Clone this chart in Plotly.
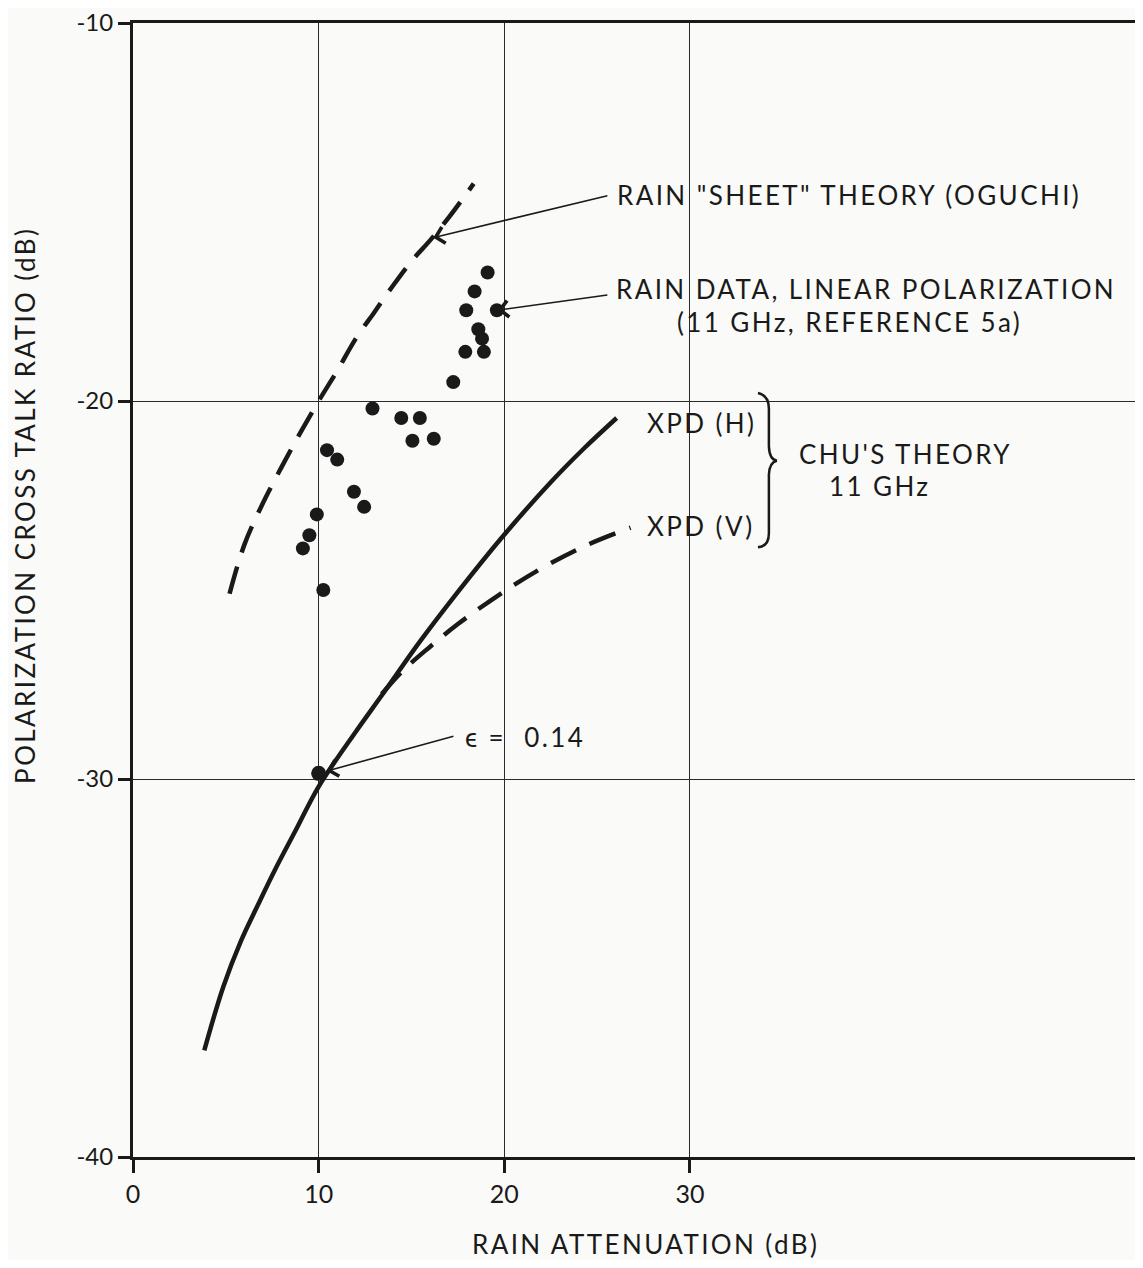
import plotly.graph_objects as go

# ---- data ----
rain_x = [19.1, 18.4, 17.95, 19.6, 18.6, 18.8, 17.9, 18.9, 17.25, 12.9, 14.45, 15.45, 15.05, 16.2,
          10.45, 11.0, 11.9, 12.45, 9.9, 9.5, 9.15, 10.25]
rain_y = [-16.6, -17.1, -17.6, -17.6, -18.1, -18.35, -18.7, -18.7, -19.5, -20.2, -20.45, -20.45, -21.05, -21.0,
          -21.3, -21.55, -22.4, -22.8, -23.0, -23.55, -23.9, -25.0]

oguchi_x = [5.2, 6.0, 7.0, 8.0, 9.0, 10.0, 11.0, 12.0, 13.0, 14.0, 15.0, 16.0, 17.0, 18.35]
oguchi_y = [-25.1, -23.8, -22.7, -21.75, -20.85, -20.0, -19.2, -18.35, -17.65, -16.95, -16.3, -15.75, -15.15, -14.25]

xpdh_x = [3.84, 4.86, 5.8, 6.72, 7.65, 8.77, 10.0, 12.0, 13.5, 15.4, 17.5, 19.8, 22.5, 24.3, 26.05]
xpdh_y = [-37.18, -35.5, -34.3, -33.34, -32.4, -31.35, -30.2, -28.75, -27.72, -26.4, -25.05, -23.65, -22.15, -21.25, -20.45]

xpdv_x = [13.4, 14.5, 16.0, 17.5, 19.8, 22.1, 24.5, 26.8]
xpdv_y = [-27.75, -27.15, -26.5, -25.9, -25.1, -24.4, -23.8, -23.35]

eps_x = [10.0]
eps_y = [-29.85]

x_ticks = [0, 10, 20, 30]
y_ticks = [-40, -30, -20, -10]

FONT = "Lato"
INK = "#1a1a1a"
BG = "#fafaf8"


def spaced(t, px=2.4):
    return '<span style="letter-spacing:%.1fpx">%s</span>' % (px, t)


fig = go.Figure()
fig.add_trace(go.Scatter(x=oguchi_x, y=oguchi_y, mode="lines", line=dict(color=INK, width=4.5, dash="28px,15px"),
                         line_shape="spline", showlegend=False))
fig.add_trace(go.Scatter(x=xpdh_x, y=xpdh_y, mode="lines", line=dict(color=INK, width=4.5),
                         line_shape="spline", showlegend=False))
fig.add_trace(go.Scatter(x=xpdv_x, y=xpdv_y, mode="lines", line=dict(color=INK, width=4.5, dash="28px,15px"),
                         line_shape="spline", showlegend=False))
fig.add_trace(go.Scatter(x=rain_x, y=rain_y, mode="markers", marker=dict(color=INK, size=14),
                         showlegend=False))
fig.add_trace(go.Scatter(x=eps_x, y=eps_y, mode="markers", marker=dict(color=INK, size=15),
                         showlegend=False))

ann_font = dict(family=FONT, size=26, color=INK)
texts = [
    (25.95, -14.56, 'RAIN "SHEET" THEORY (OGUCHI)', "left"),
    (25.9, -17.05, "RAIN DATA, LINEAR POLARIZATION", "left"),
    (38.6, -17.92, "(11 GHz, REFERENCE 5a)", "center"),
    (27.6, -20.57, "XPD (H)", "left"),
    (27.6, -23.30, "XPD (V)", "left"),
    (35.76, -21.40, "CHU'S THEORY", "left"),
    (37.37, -22.24, "11 GHz", "left"),
    (17.8, -28.88, "\u03f5 =  0.14", "left"),
]
for x, y, t, anc in texts:
    fig.add_annotation(x=x, y=y, text=spaced(t), showarrow=False, xanchor=anc, yanchor="middle", font=ann_font)

arrows = [
    (16.17, -15.68, 25.63, -14.56),
    (19.63, -17.6, 25.63, -17.19),
    (10.43, -29.79, 17.34, -28.86),
]
for hx, hy, tx, ty in arrows:
    fig.add_annotation(x=hx, y=hy, ax=tx, ay=ty, xref="x", yref="y", axref="x", ayref="y", text="",
                       showarrow=True, arrowhead=4, arrowsize=2.0, arrowwidth=1.6, arrowcolor=INK)

# brace for Chu's theory
fig.add_shape(type="path", xref="x", yref="y",
              path="M 33.66,-19.79 Q 34.25,-19.85 34.25,-20.2 L 34.25,-21.2 Q 34.28,-21.55 34.68,-21.58 "
                   "Q 34.28,-21.62 34.25,-21.95 L 34.25,-23.5 Q 34.25,-23.85 33.66,-23.87",
              line=dict(color=INK, width=2.5))

# axis titles as annotations
fig.add_annotation(xref="paper", yref="paper", x=-0.107, y=0.575,
                   text=spaced("POLARIZATION CROSS TALK RATIO (dB)"),
                   textangle=-90, showarrow=False, xanchor="center", yanchor="middle",
                   font=dict(family=FONT, size=26, color=INK))
fig.add_annotation(xref="paper", yref="paper", x=0.507, y=-0.0764, text=spaced("RAIN ATTENUATION (dB)"),
                   showarrow=False, xanchor="center", yanchor="middle",
                   font=dict(family=FONT, size=26, color=INK))

fig.update_xaxes(range=[0, 54.4], tickvals=x_ticks, ticktext=[str(v) for v in x_ticks],
                 showgrid=True, gridcolor="#2a2a2a", gridwidth=1.2, zeroline=False,
                 showline=True, linecolor=INK, linewidth=3, mirror=True, automargin=False,
                 ticks="outside", ticklen=13, tickwidth=3, tickcolor=INK,
                 tickfont=dict(family=FONT, size=25, color=INK), ticklabeloverflow="allow")
fig.update_yaxes(range=[-40, -10], tickvals=y_ticks, ticktext=[str(v) for v in y_ticks],
                 showgrid=True, gridcolor="#2a2a2a", gridwidth=1.2, zeroline=False,
                 showline=True, linecolor=INK, linewidth=3, automargin=False,
                 ticks="outside", ticklen=12, tickwidth=3, tickcolor=INK,
                 tickfont=dict(family=FONT, size=24, color=INK), ticklabeloverflow="allow")

fig.update_layout(width=1135, height=1252, margin=dict(l=125, r=0, t=15, b=103, autoexpand=False),
                  paper_bgcolor=BG, plot_bgcolor=BG, showlegend=False)

fig.write_html("out.html")
